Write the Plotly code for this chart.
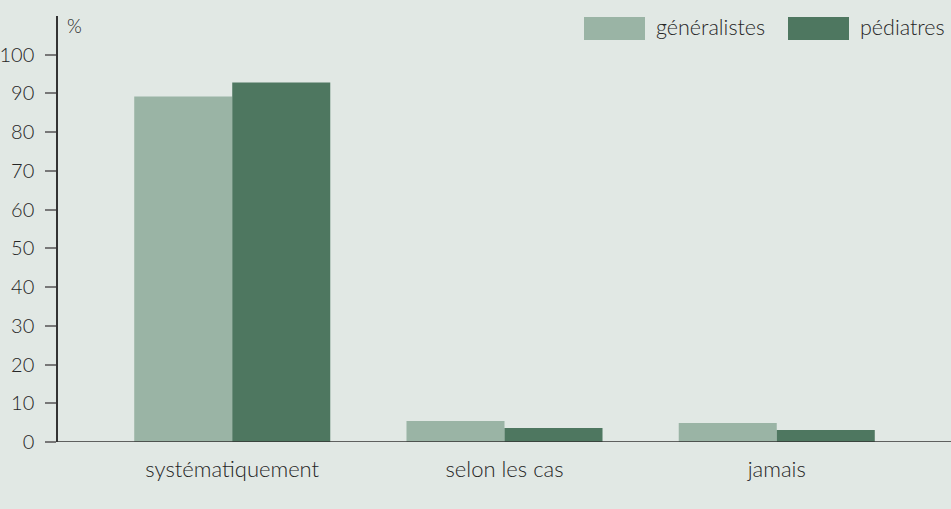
import plotly.graph_objects as go

categories = ["systématiquement", "selon les cas", "jamais"]
generalistes = [89.2, 5.4, 4.9]
pediatres = [92.8, 3.6, 3.1]
series_names = ["généralistes", "pédiatres"]
colors = ["#9ab4a5", "#4e7760"]
y_ticks = [0, 10, 20, 30, 40, 50, 60, 70, 80, 90, 100]

BG = "#e1e8e4"
FONT = "Lato"
TXT = "#262626"

fig = go.Figure()
for name, vals, c in zip(series_names, [generalistes, pediatres], colors):
    fig.add_trace(go.Bar(x=categories, y=vals, name=name, marker=dict(color=c, line=dict(width=0)),
                         showlegend=False, hoverinfo="skip"))

fig.update_layout(
    width=951, height=509,
    paper_bgcolor=BG, plot_bgcolor=BG,
    margin=dict(l=58, r=0, t=16, b=67),
    barmode="group", bargap=0.28, bargroupgap=0,
    font=dict(family=FONT, size=18, color=TXT, weight=300),
    xaxis=dict(range=[-0.64, 2.64], showgrid=False, zeroline=False, showline=False,
               ticks="", ticklabelstandoff=12,
               tickfont=dict(family=FONT, size=22, color=TXT, weight=300)),
    yaxis=dict(range=[0, 110], tickvals=y_ticks, showgrid=False, zeroline=False,
               showline=True, linecolor="#333333", linewidth=1.5,
               ticks="outside", ticklen=11, tickcolor="#777777", tickwidth=1.5,
               ticklabelstandoff=7,
               tickfont=dict(family=FONT, size=20, color=TXT, weight=300)),
)

# baseline
fig.add_shape(type="line", xref="paper", yref="y", x0=0, x1=1, y0=0, y1=0,
              line=dict(color="#333333", width=1.5))

# % label
fig.add_annotation(xref="paper", yref="paper", x=7/893, y=(442-25)/427, text="%",
                   showarrow=False, xanchor="left", yanchor="middle",
                   font=dict(family=FONT, size=19, color=TXT, weight=300))

def px_x(px):
    return (px - 58) / 893

def px_y(py):
    return (442 - py) / 427

legend_pos = [(584, 645, 654), (788, 849, 858)]
for (x0, x1, tx), name, c in zip(legend_pos, series_names, colors):
    fig.add_shape(type="rect", xref="paper", yref="paper", x0=px_x(x0), x1=px_x(x1),
                  y0=px_y(39), y1=px_y(16), fillcolor=c, line=dict(width=0))
    fig.add_annotation(xref="paper", yref="paper", x=px_x(tx), y=px_y(26), text=name,
                       showarrow=False, xanchor="left", yanchor="middle",
                       font=dict(family=FONT, size=21.5, color=TXT, weight=300))

fig.write_html("out.html", config={"displayModeBar": False},
               post_script="document.body.style.margin='0';document.body.style.overflow='hidden';")
